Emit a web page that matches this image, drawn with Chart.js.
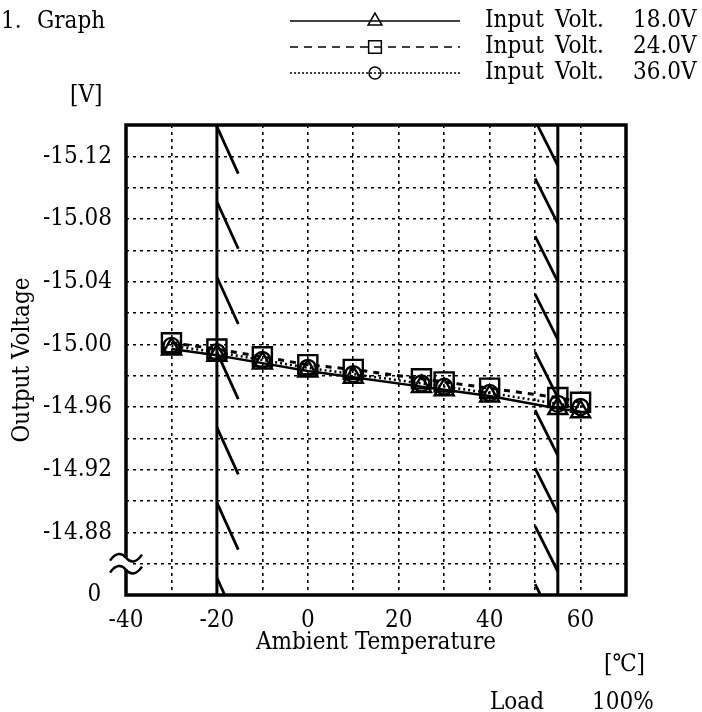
<!DOCTYPE html>
<html>
<head>
<meta charset="utf-8">
<script src="https://cdn.jsdelivr.net/npm/chart.js@4.4.1/dist/chart.umd.min.js"></script>
<style>
html,body{margin:0;padding:0;background:#fff;}
#wrap{width:702px;height:712px;position:relative;background:#fff;}
</style>
</head>
<body>
<div id="wrap"><canvas id="c" width="702" height="712"></canvas></div>
<script>
// ---- data ----
const temperatures = [-30, -20, -10, 0, 10, 25, 30, 40, 55, 60];
const vout18 = [-14.997, -14.993, -14.988, -14.983, -14.979, -14.973, -14.971, -14.967, -14.959, -14.957];
const vout24 = [-15.001, -14.997, -14.992, -14.987, -14.984, -14.978, -14.976, -14.972, -14.966, -14.963];
const vout36 = [-14.999, -14.995, -14.990, -14.985, -14.981, -14.975, -14.973, -14.969, -14.962, -14.960];
const seriesLabels = ['Input Volt. 18.0V', 'Input Volt. 24.0V', 'Input Volt. 36.0V'];
const xTickLabels = [-40, -20, 0, 20, 40, 60];
const yTickLabels = [-15.12, -15.08, -15.04, -15.00, -14.96, -14.92, -14.88];
const yBreakValue = -14.84;   // bottom of axis, shown as "0" (axis break)
const yBreakLabel = '0';
const deratingTemps = [-20, 55];

const FF = "'DejaVu Serif Condensed','Liberation Serif',serif";
const FS = 24;

function mkData(vals){ return temperatures.map((t,i)=>({x:t, y:vals[i]})); }

const HATCH = [
  {x0:-20, x1:-15.3, first:-15.139, step:0.048, dv:0.030},
  {x0:50,  x1:55,    first:-15.143, step:0.037, dv:0.029}
];

const decor = {
  id:'decor',
  beforeDatasetsDraw(chart){
    const {ctx, chartArea:a, scales:{x, y}} = chart;
    ctx.save();
    ctx.beginPath(); ctx.rect(a.left, a.top, a.right-a.left, a.bottom-a.top); ctx.clip();
    ctx.strokeStyle = '#000';
    ctx.lineWidth = 3;
    deratingTemps.forEach(t=>{
      const px = x.getPixelForValue(t);
      ctx.beginPath(); ctx.moveTo(px, a.top); ctx.lineTo(px, a.bottom); ctx.stroke();
    });
    ctx.lineWidth = 2.8;
    HATCH.forEach(h=>{
      for(let v=h.first; v < y.max + 0.001; v += h.step){
        ctx.beginPath();
        ctx.moveTo(x.getPixelForValue(h.x0), y.getPixelForValue(v));
        ctx.lineTo(x.getPixelForValue(h.x1), y.getPixelForValue(v+h.dv));
        ctx.stroke();
      }
    });
    ctx.restore();
    ctx.save();
    ctx.strokeStyle = '#000'; ctx.lineWidth = 3.5;
    ctx.strokeRect(a.left, a.top, a.right-a.left, a.bottom-a.top);
    ctx.restore();
  },
  afterDraw(chart){
    const {ctx, chartArea:a, scales:{y}} = chart;
    // axis break symbol
    const yc = y.getPixelForValue(-14.86);
    const bx = a.left;
    ctx.save();
    ctx.fillStyle = '#fff';
    ctx.fillRect(bx-3, yc-6, 6, 12);
    ctx.strokeStyle = '#000'; ctx.lineWidth = 2.5;
    const wave = (c)=>{
      ctx.beginPath();
      ctx.moveTo(bx-16, c+3);
      ctx.bezierCurveTo(bx-10, c-6, bx-4, c-5, bx, c);
      ctx.bezierCurveTo(bx+4, c+5, bx+10, c+6, bx+16, c-3);
      ctx.stroke();
    };
    wave(yc-6); wave(yc+6);
    ctx.restore();

    // texts
    ctx.save();
    ctx.fillStyle = '#000';
    ctx.font = FS + 'px ' + FF;
    ctx.textBaseline = 'middle';
    ctx.textAlign = 'left';
    ctx.fillText('1.', 1, 22);
    ctx.fillText('Graph', 37, 22);
    ctx.fillText('[V]', 70, 96);
    ctx.fillText('[\u2103]', 604, 665);
    ctx.fillText('Load', 490, 703);
    ctx.fillText('100%', 592, 703);

    // legend
    chart.data.datasets.forEach((ds, i)=>{
      const ly = 21 + i*26;
      ctx.save();
      ctx.strokeStyle = '#000';
      ctx.lineWidth = 1.5;
      ctx.setLineDash(ds.legendDash);
      ctx.beginPath(); ctx.moveTo(290, ly); ctx.lineTo(460, ly); ctx.stroke();
      ctx.setLineDash([]);
      ctx.fillStyle = 'rgba(0,0,0,0)';
      Chart.helpers.drawPoint(ctx, {pointStyle: ds.pointStyle, radius: ds.legendRadius, borderWidth: 1.6, rotation: 0}, 375, ly);
      ctx.restore();
      const parts = ds.label.split(' ');
      const px = [485, 555, 633];
      parts.forEach((p, k)=> ctx.fillText(p, px[k], ly));
    });
    ctx.restore();
  }
};

const axisFont = {family: FF, size: FS};

new Chart(document.getElementById('c'), {
  type: 'line',
  data: {
    datasets: [
      {label: seriesLabels[0], data: mkData(vout18), borderColor:'#000', borderWidth:2.5, borderDash:[],
       pointStyle:'triangle', pointRadius:11, pointBorderWidth:2.4, pointBorderColor:'#000', pointBackgroundColor:'rgba(0,0,0,0)',
       legendDash:[], legendRadius:8, tension:0, fill:false},
      {label: seriesLabels[1], data: mkData(vout24), borderColor:'#000', borderWidth:3, borderDash:[6,6],
       pointStyle:'rect', pointRadius:13.5, pointBorderWidth:2.4, pointBorderColor:'#000', pointBackgroundColor:'rgba(0,0,0,0)',
       legendDash:[8,6], legendRadius:9, tension:0, fill:false},
      {label: seriesLabels[2], data: mkData(vout36), borderColor:'#000', borderWidth:2.5, borderDash:[2,3],
       pointStyle:'circle', pointRadius:8, pointBorderWidth:2.4, pointBorderColor:'#000', pointBackgroundColor:'rgba(0,0,0,0)',
       legendDash:[2,2], legendRadius:6, tension:0, fill:false}
    ]
  },
  options: {
    responsive:false,
    animation:false,
    devicePixelRatio:1,
    layout:{padding:{top:125, right:76, bottom:0, left:0}},
    plugins:{legend:{display:false}, tooltip:{enabled:false}, title:{display:false}},
    scales:{
      x:{
        type:'linear', min:-40, max:70,
        ticks:{stepSize:10, autoSkip:false, maxRotation:0, padding:11, color:'#000', font:axisFont,
          callback:(v)=> xTickLabels.includes(Math.round(v)) ? String(Math.round(v)) : ''},
        grid:{color:'#000', lineWidth:1.6, drawTicks:false},
        border:{display:false, dash:[3,4]},
        title:{display:true, text:'Ambient Temperature', color:'#000', font:axisFont, padding:{top:0, bottom:55}},
        afterFit:(s)=>{ s.height = 117; }
      },
      y:{
        type:'linear', reverse:true, min:-15.14, max:yBreakValue,
        ticks:{stepSize:0.02, maxTicksLimit:20, autoSkip:false, padding:14, color:'#000', font:axisFont,
          callback:(v)=>{
            const r = Math.round(v*100)/100;
            if (Math.abs(r - yBreakValue) < 1e-9) return yBreakLabel + '\u2002';
            return yTickLabels.some(t=>Math.abs(t-r)<1e-9) ? r.toFixed(2) : '';
          }},
        grid:{color:'#000', lineWidth:1.6, drawTicks:false},
        border:{display:false, dash:[3,4]},
        title:{display:true, text:'Output Voltage', color:'#000', font:axisFont, padding:{top:8, bottom:0}},
        afterFit:(s)=>{ s.width = 126; }
      }
    }
  },
  plugins:[decor]
});
</script>
</body>
</html>
